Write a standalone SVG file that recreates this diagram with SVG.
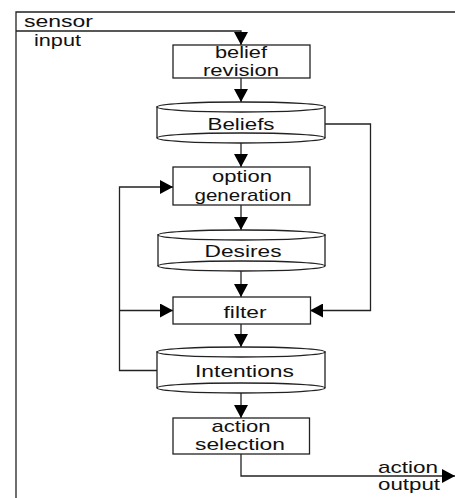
<svg xmlns="http://www.w3.org/2000/svg" width="455" height="498" viewBox="0 0 455 498">
<defs>
<style>
.b{fill:#fff;stroke:#222;stroke-width:1.3}
.c{fill:none;stroke:#222;stroke-width:1.3}
.t{font-family:"Liberation Sans",Arial,sans-serif;font-size:17px;fill:#111}
.m{text-anchor:middle}
</style>
<marker id="ah" markerUnits="userSpaceOnUse" markerWidth="13" markerHeight="14" refX="13" refY="7" orient="auto">
<path d="M0,0 L13,7 L0,14 z" fill="#000"/>
</marker>
</defs>
<g id="connectors" class="c">
<path d="M16,498 V12 H455"/>
<path d="M16,31 H241 V45" marker-end="url(#ah)"/>
<path d="M241,78 V102" marker-end="url(#ah)"/>
<path d="M241,143 V167" marker-end="url(#ah)"/>
<path d="M241,205 V230" marker-end="url(#ah)"/>
<path d="M241,271 V297" marker-end="url(#ah)"/>
<path d="M241,324 V347" marker-end="url(#ah)"/>
<path d="M241,393 V418" marker-end="url(#ah)"/>
<path d="M241,454 V476 H455" marker-end="url(#ah)"/>
<path d="M325,124 H370.5 V310.5 H310" marker-end="url(#ah)"/>
<path d="M157,370.5 H119.5 V187 H173" marker-end="url(#ah)"/>
<path d="M119.5,310.5 H173" marker-end="url(#ah)"/>
</g>
<g id="sensor-input">
<text class="t" x="24" y="27" textLength="69" lengthAdjust="spacingAndGlyphs">sensor</text>
<text class="t" x="34" y="45.5" textLength="47" lengthAdjust="spacingAndGlyphs">input</text>
</g>
<g id="belief-revision">
<rect class="b" x="173" y="45" width="137" height="33"/>
<text class="t m" x="241" y="58" textLength="52" lengthAdjust="spacingAndGlyphs">belief</text>
<text class="t m" x="241" y="76" textLength="76" lengthAdjust="spacingAndGlyphs">revision</text>
</g>
<g id="beliefs">
<path class="b" d="M157,107 V138 A84,5 0 0 0 325,138 V107 Z"/>
<ellipse class="b" cx="241" cy="107" rx="84" ry="5"/>
<path class="c" d="M157,138 A84,5 0 0 1 325,138"/>
<text class="t m" x="241" y="129.5" textLength="67" lengthAdjust="spacingAndGlyphs">Beliefs</text>
</g>
<g id="option-generation">
<rect class="b" x="173" y="167" width="137" height="38"/>
<text class="t m" x="242" y="182" textLength="60" lengthAdjust="spacingAndGlyphs">option</text>
<text class="t m" x="243" y="201" textLength="97" lengthAdjust="spacingAndGlyphs">generation</text>
</g>
<g id="desires">
<path class="b" d="M158,235 V266 A83.5,5 0 0 0 325,266 V235 Z"/>
<ellipse class="b" cx="241.5" cy="235" rx="83.5" ry="5"/>
<path class="c" d="M158,266 A83.5,5 0 0 1 325,266"/>
<text class="t m" x="243" y="257" textLength="77" lengthAdjust="spacingAndGlyphs">Desires</text>
</g>
<g id="filter">
<rect class="b" x="173" y="297" width="137.5" height="27"/>
<text class="t m" x="245" y="317.5" textLength="43" lengthAdjust="spacingAndGlyphs">filter</text>
</g>
<g id="intentions">
<path class="b" d="M157,352 V388 A84,5 0 0 0 325,388 V352 Z"/>
<ellipse class="b" cx="241" cy="352" rx="84" ry="5"/>
<path class="c" d="M157,388 A84,5 0 0 1 325,388"/>
<text class="t m" x="244.5" y="377" textLength="99" lengthAdjust="spacingAndGlyphs">Intentions</text>
</g>
<g id="action-selection">
<rect class="b" x="173" y="418" width="136.5" height="36"/>
<text class="t m" x="241" y="432" textLength="59" lengthAdjust="spacingAndGlyphs">action</text>
<text class="t m" x="240" y="450" textLength="90" lengthAdjust="spacingAndGlyphs">selection</text>
</g>
<g id="action-output">
<text class="t" x="378" y="472.5" textLength="60" lengthAdjust="spacingAndGlyphs">action</text>
<text class="t" x="378" y="489.5" textLength="62" lengthAdjust="spacingAndGlyphs">output</text>
</g>
</svg>
